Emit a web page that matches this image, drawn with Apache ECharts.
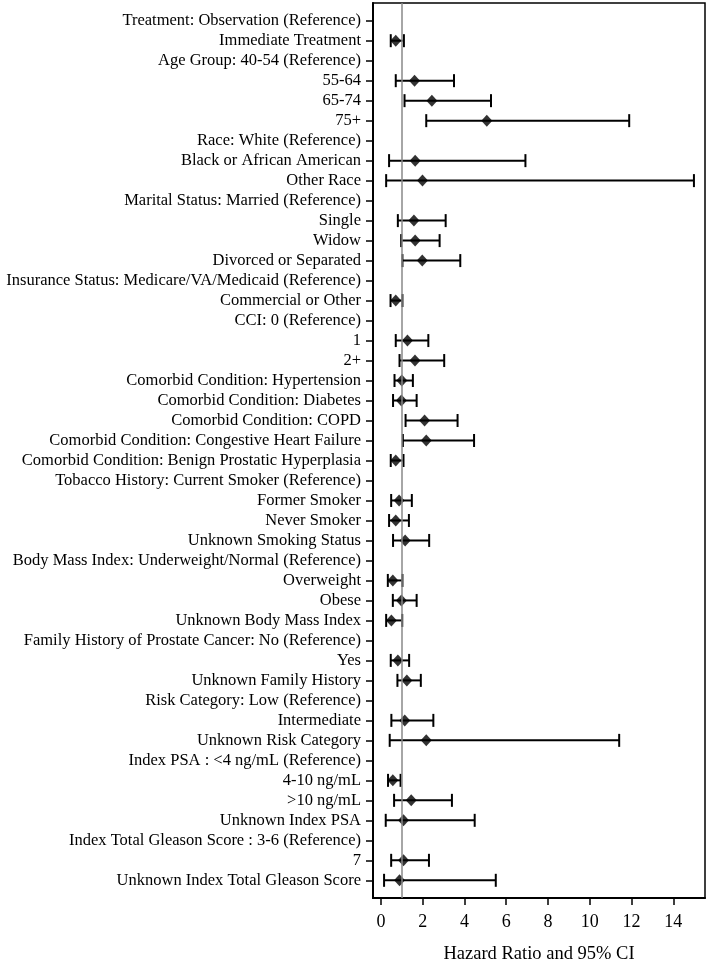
<!DOCTYPE html>
<html>
<head>
<meta charset="utf-8">
<script src="https://cdn.jsdelivr.net/npm/echarts@6/dist/echarts.min.js"></script>
<style>html,body{margin:0;padding:0;background:#fff}#c{width:709px;height:960px}</style>
</head>
<body>
<div id="c"></div>
<script>
const categories = [
  "Treatment: Observation (Reference)",
  "Immediate Treatment",
  "Age Group: 40-54 (Reference)",
  "55-64",
  "65-74",
  "75+",
  "Race: White (Reference)",
  "Black or African American",
  "Other Race",
  "Marital Status: Married (Reference)",
  "Single",
  "Widow",
  "Divorced or Separated",
  "Insurance Status: Medicare/VA/Medicaid (Reference)",
  "Commercial or Other",
  "CCI: 0 (Reference)",
  "1",
  "2+",
  "Comorbid Condition: Hypertension",
  "Comorbid Condition: Diabetes",
  "Comorbid Condition: COPD",
  "Comorbid Condition: Congestive Heart Failure",
  "Comorbid Condition: Benign Prostatic Hyperplasia",
  "Tobacco History: Current Smoker (Reference)",
  "Former Smoker",
  "Never Smoker",
  "Unknown Smoking Status",
  "Body Mass Index: Underweight/Normal (Reference)",
  "Overweight",
  "Obese",
  "Unknown Body Mass Index",
  "Family History of Prostate Cancer: No (Reference)",
  "Yes",
  "Unknown Family History",
  "Risk Category: Low (Reference)",
  "Intermediate",
  "Unknown Risk Category",
  "Index PSA : <4 ng/mL (Reference)",
  "4-10 ng/mL",
  ">10 ng/mL",
  "Unknown Index PSA",
  "Index Total Gleason Score : 3-6 (Reference)",
  "7",
  "Unknown Index Total Gleason Score"
];
// Hazard ratios (null = reference category)
const hazardRatio = [
  null, 0.71, null, 1.61, 2.44, 5.07, null, 1.64, 1.99, null,
  1.58, 1.64, 1.98, null, 0.71, null, 1.27, 1.63, 1.00, 0.98,
  2.09, 2.17, 0.71, null, 0.87, 0.71, 1.16, null, 0.57, 0.98,
  0.50, null, 0.81, 1.24, null, 1.14, 2.17, null, 0.57, 1.45,
  1.08, null, 1.08, 0.89
];
const ciLower = [
  null, 0.47, null, 0.71, 1.13, 2.17, null, 0.39, 0.25, null,
  0.81, 0.97, 1.03, null, 0.46, null, 0.71, 0.89, 0.65, 0.58,
  1.18, 1.05, 0.47, null, 0.49, 0.39, 0.58, null, 0.33, 0.57,
  0.25, null, 0.47, 0.79, null, 0.50, 0.42, null, 0.34, 0.63,
  0.23, null, 0.49, 0.15
];
const ciUpper = [
  null, 1.10, null, 3.50, 5.27, 11.89, null, 6.92, 14.99, null,
  3.10, 2.81, 3.80, null, 1.03, null, 2.27, 3.03, 1.53, 1.71,
  3.67, 4.46, 1.08, null, 1.48, 1.34, 2.31, null, 1.03, 1.71,
  1.02, null, 1.35, 1.91, null, 2.51, 11.41, null, 0.94, 3.40,
  4.49, null, 2.30, 5.50
];
const xTicks = [0, 2, 4, 6, 8, 10, 12, 14];
const referenceValue = 1;

const rowIdx = categories.map((_, i) => i);
const pointData = [];
const ciData = [];
categories.forEach((_, i) => {
  if (hazardRatio[i] != null) pointData.push([hazardRatio[i], i]);
  if (ciLower[i] != null) ciData.push([ciLower[i], ciUpper[i], i]);
});

const font = "'Liberation Serif', 'Times New Roman', serif";
const chart = echarts.init(document.getElementById('c'), null, {renderer: 'canvas'});
chart.setOption({
  animation: false,
  backgroundColor: '#fff',
  grid: {
    left: 373, right: 4, top: 3, bottom: 62,
    containLabel: false, outerBoundsMode: 'none',
    show: true, borderColor: '#000', borderWidth: 1.5, backgroundColor: 'transparent'
  },
  xAxis: {
    type: 'value', min: -0.38, max: 15.52,
    name: 'Hazard Ratio and 95% CI', nameLocation: 'middle', nameGap: 47,
    nameTextStyle: {fontFamily: font, fontSize: 18.5, color: '#000'},
    axisLine: {show: true, onZero: false, lineStyle: {color: '#000', width: 2}},
    axisTick: {show: true, customValues: xTicks, length: 7, lineStyle: {color: '#000', width: 1.5}},
    axisLabel: {customValues: xTicks, fontFamily: font, fontSize: 18, color: '#000', margin: 15},
    splitLine: {show: false}
  },
  yAxis: {
    type: 'value', inverse: true, min: -0.885, max: 43.885,
    axisLine: {show: true, onZero: false, lineStyle: {color: '#000', width: 2}},
    axisTick: {show: true, customValues: rowIdx, length: 7, lineStyle: {color: '#000', width: 1.5}},
    axisLabel: {
      customValues: rowIdx, fontFamily: font, fontSize: 16.5, color: '#000', margin: 12,
      formatter: v => categories[Math.round(v)]
    },
    splitLine: {show: false}
  },
  series: [
    {
      type: 'custom',
      data: ciData,
      encode: {x: [0, 1], y: 2},
      renderItem: function (params, api) {
        const lo = api.coord([api.value(0), api.value(2)]);
        const hi = api.coord([api.value(1), api.value(2)]);
        const h = 6.5;
        const st = {stroke: '#000', lineWidth: 2};
        return {
          type: 'group',
          children: [
            {type: 'line', shape: {x1: lo[0], y1: lo[1], x2: hi[0], y2: hi[1]}, style: st},
            {type: 'line', shape: {x1: lo[0], y1: lo[1] - h, x2: lo[0], y2: lo[1] + h}, style: st},
            {type: 'line', shape: {x1: hi[0], y1: hi[1] - h, x2: hi[0], y2: hi[1] + h}, style: st}
          ]
        };
      },
      z: 3
    },
    {
      type: 'scatter',
      data: pointData,
      symbol: 'diamond',
      symbolSize: [11, 12],
      itemStyle: {color: '#000'},
      z: 4,
      markLine: {
        silent: true, symbol: 'none', label: {show: false},
        lineStyle: {color: '#888', width: 1.5, type: 'solid'},
        data: [{xAxis: referenceValue}]
      }
    }
  ]
});
</script>
</body>
</html>
